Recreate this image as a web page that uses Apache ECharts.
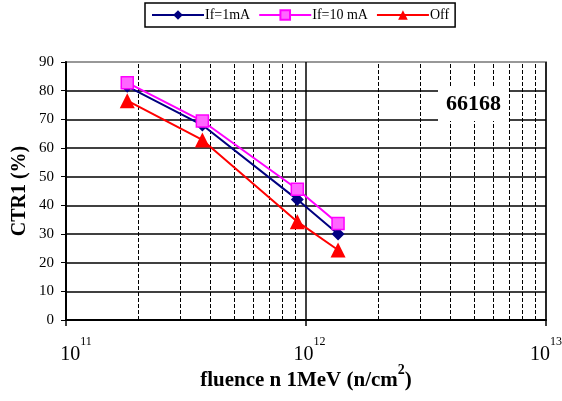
<!DOCTYPE html>
<html><head><meta charset="utf-8">
<script src="https://cdn.jsdelivr.net/npm/echarts@6/dist/echarts.min.js"></script>
<style>html,body{margin:0;padding:0;background:#fff}#c{width:562px;height:401px}</style>
</head><body><div id="c"></div>
<script>
var fluence = [1.8e11, 3.7e11, 9.2e11, 1.36e12];
var if1mA = [81.5, 68, 42, 30];
var if10mA = [82.8, 69.4, 45.6, 33.7];
var offV = [76.5, 62.8, 34.3, 24.4];
var minorGrid = [2e11,3e11,4e11,5e11,6e11,7e11,8e11,9e11,2e12,3e12,4e12,5e12,6e12,7e12,8e12,9e12];
var yTicks = [0,10,20,30,40,50,60,70,80,90];
var F = '"Liberation Serif","Times New Roman",serif';

function pairs(xs, ys){ return xs.map(function(x,i){return [x, ys[i]];}); }

var chart = echarts.init(document.getElementById('c'));
var splitColors = yTicks.map(function(v,i){ return i === yTicks.length-1 ? '#999' : '#000'; });
var labelShift = {11: '{g1|}', 12: '{g2|}', 13: ''};
chart.setOption({
  animation: false,
  textStyle: {fontFamily: F},
  legend: {
    top: 3, left: 145,
    data: ['If=1mA','If=10 mA','Off'],
    itemWidth: 52, itemHeight: 12, itemGap: 8,
    padding: [5, 6],
    borderColor: '#000', borderWidth: 1.5,
    textStyle: {fontFamily: F, fontSize: 14, color: '#000', padding: [0,0,0,-4]}
  },
  grid: {left: 66, right: 16, top: 62, bottom: 81, show: true, borderColor: '#999', borderWidth: 2, outerBoundsMode: 'none', containLabel: false},
  xAxis: {
    type: 'log', logBase: 10, min: 1e11, max: 1e13,
    name: '{a|fluence n 1MeV (n/cm}{s|2}{a|)}',
    nameLocation: 'middle', nameGap: 43, nameMoveOverlap: false,
    nameTextStyle: {rich: {
      a: {fontFamily: F, fontSize: 21, fontWeight: 'bold', color: '#000', lineHeight: 28, verticalAlign: 'bottom'},
      s: {fontFamily: F, fontSize: 14, fontWeight: 'bold', color: '#000', lineHeight: 28, verticalAlign: 'top'}
    }},
    axisLine: {lineStyle: {color: '#000', width: 2}},
    axisTick: {show: true, inside: false, length: 6, lineStyle: {color: '#000', width: 1.5}},
    axisLabel: {
      margin: 16,
      formatter: function(v){ var e = Math.round(Math.log10(v)); return (labelShift[e] || '') + '{b|10}{s|' + e + '}'; },
      rich: {
        b: {fontFamily: F, fontSize: 20, color: '#000', lineHeight: 29, verticalAlign: 'bottom'},
        s: {fontFamily: F, fontSize: 12, color: '#000', lineHeight: 29, verticalAlign: 'top'},
        g1: {width: 20, lineHeight: 29},
        g2: {width: 7, lineHeight: 29}
      }
    },
    splitLine: {show: true, lineStyle: {color: '#000', width: 1.5}},
    minorTick: {show: false}
  },
  yAxis: {
    type: 'value', min: 0, max: 90, interval: 10,
    name: 'CTR1 (%)', nameLocation: 'middle', nameGap: 36, nameMoveOverlap: false,
    nameTextStyle: {fontFamily: F, fontSize: 20, fontWeight: 'bold', color: '#000'},
    axisLine: {show: true, lineStyle: {color: '#000', width: 2}},
    axisTick: {show: true, length: 5, lineStyle: {color: '#000'}},
    axisLabel: {fontFamily: F, fontSize: 15, color: '#000', margin: 12},
    splitLine: {show: true, lineStyle: {color: splitColors, width: 1.5}}
  },
  graphic: [{
    type: 'text', left: 438, top: 87, z: 100,
    style: {text: '66168', font: 'bold 22px ' + F, fill: '#000', backgroundColor: '#fff', padding: [6, 8, 6, 8]}
  }],
  series: [
    {
      name: 'If=1mA', type: 'line', data: pairs(fluence, if1mA),
      symbol: 'diamond', symbolSize: 13,
      lineStyle: {color: '#000080', width: 2}, itemStyle: {color: '#000080'}, z: 3,
      markLine: {
        silent: true, symbol: ['none','none'], label: {show: false},
        lineStyle: {color: '#000', type: [4,2], width: 1},
        data: minorGrid.map(function(v){ return {xAxis: v}; }),
        z: 1
      }
    },
    {
      name: 'If=10 mA', type: 'line', data: pairs(fluence, if10mA),
      symbol: 'rect', symbolSize: 12,
      lineStyle: {color: '#ff00ff', width: 2},
      itemStyle: {color: '#ff66ff', borderColor: '#ff00ff', borderWidth: 1.5}, z: 4
    },
    {
      name: 'Off', type: 'line', data: pairs(fluence, offV),
      symbol: 'triangle', symbolSize: 15,
      lineStyle: {color: '#ff0000', width: 2}, itemStyle: {color: '#ff0000'}, z: 2
    }
  ]
});
</script></body></html>
